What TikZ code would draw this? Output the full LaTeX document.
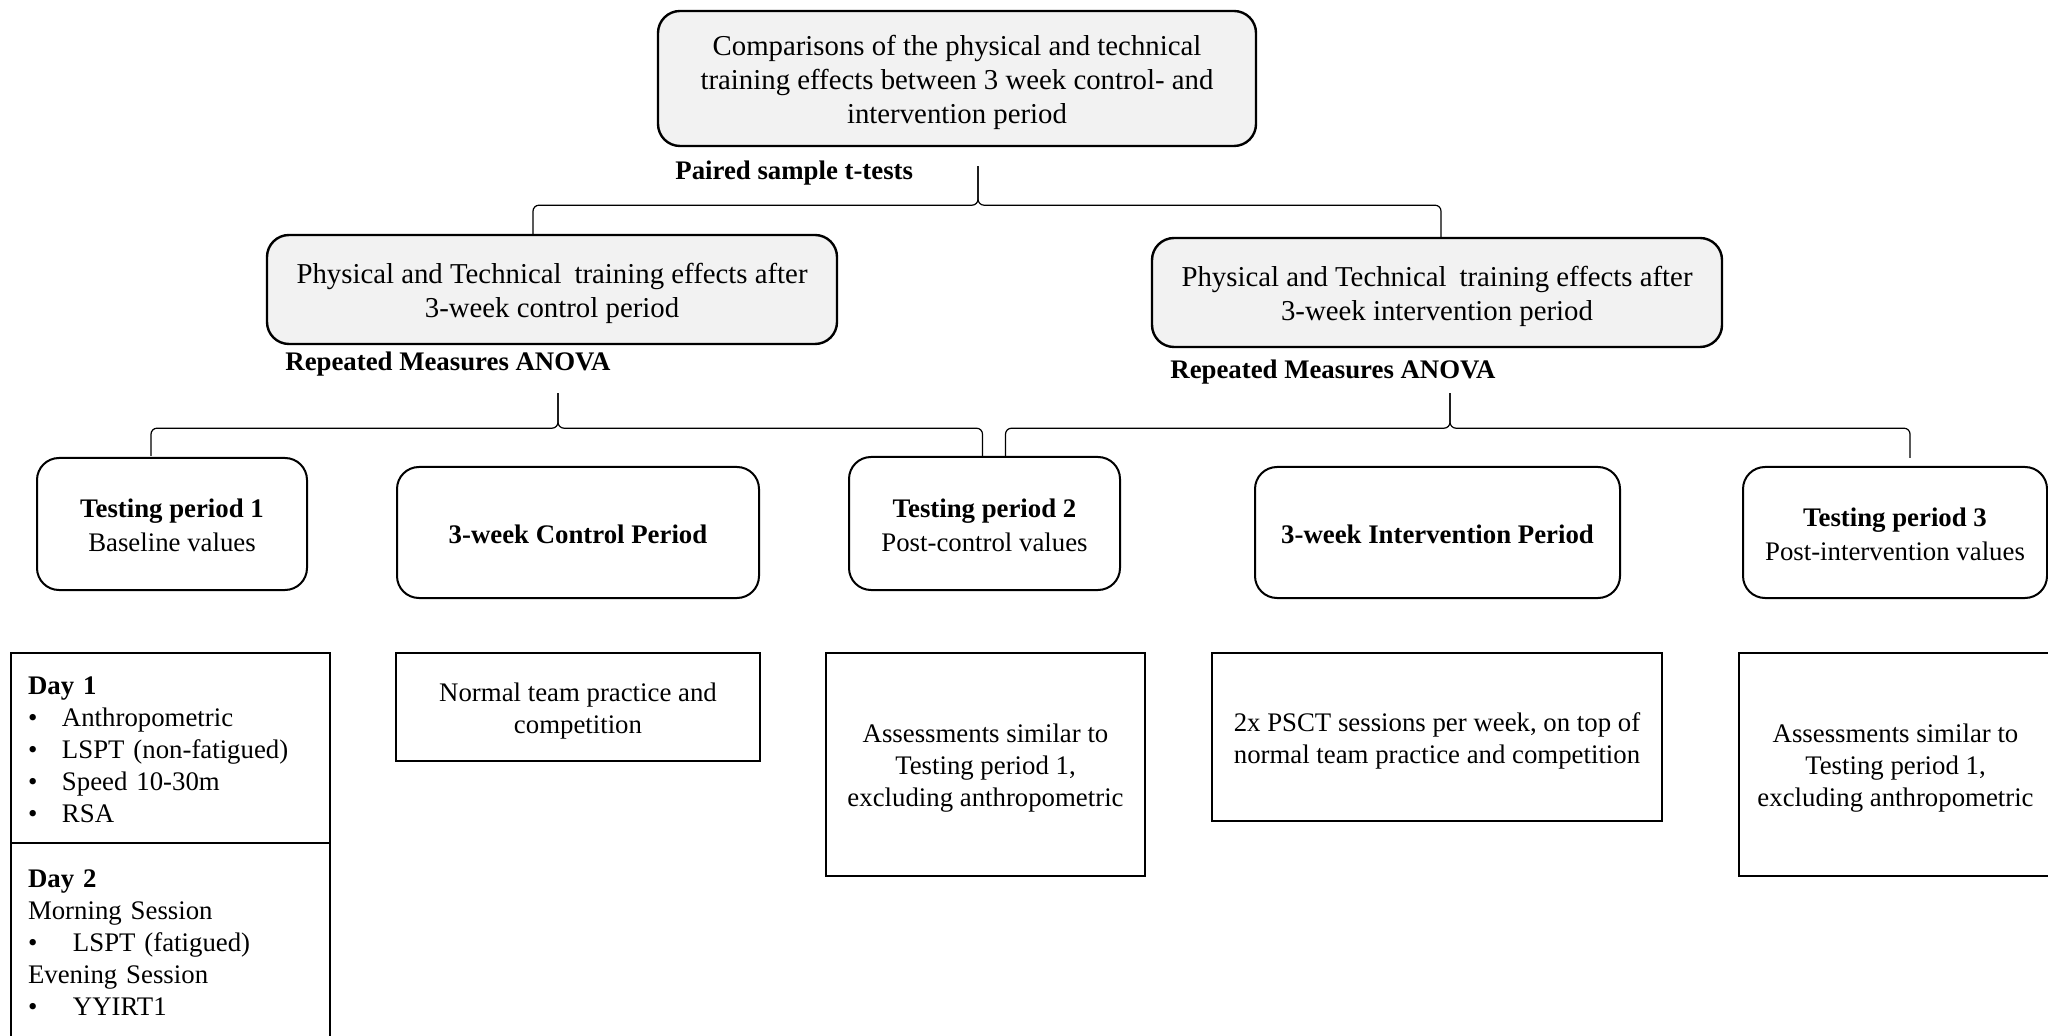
\documentclass[tikz,border=0pt]{standalone}
\usepackage{fontspec}
\setmainfont{Liberation Serif}
\usetikzlibrary{calc}

\definecolor{boxgray}{HTML}{F2F2F2}

\tikzset{
  bigfont/.style={font=\fontsize{14.4}{17}\selectfont},
  smallfont/.style={font=\fontsize{13.4}{16}\selectfont},
  effbox/.style={draw, line width=1.2pt, rounded corners=11pt, fill=boxgray, align=center, bigfont},
  phasebox/.style={draw, line width=1pt, rounded corners=11pt, align=center, smallfont},
  infobox/.style={draw, line width=1pt, align=center, smallfont},
  daybox/.style={draw, line width=1pt, align=left, smallfont, inner xsep=8.5pt, text width=142.5pt},
  testlabel/.style={anchor=base west, inner sep=0pt, font=\bfseries\fontsize{13.4}{16}\selectfont},
  brace/.style={draw, line width=0.6pt, rounded corners=3pt},
}

\newcommand{\wordbrace}[4]{% left end, apex, right end, bar level
  \draw[brace] (#1) -- (#1 |- #4) -- (#2 |- #4) -- (#2);
  \draw[brace] (#2) -- (#2 |- #4) -- (#3 |- #4) -- (#3);
}
\newcommand{\itm}[1][17pt]{\makebox[#1][l]{\textbullet}}
\newcommand{\tstrut}[1]{\rule{0pt}{#1}}

\begin{document}
\begin{tikzpicture}[x=0.5pt, y=-0.5pt]
  \useasboundingbox (0,0) rectangle (2048,1036);

  % comparison between the two periods
  \node[effbox, minimum width=299pt, minimum height=67.5pt] (top) at (957,78.5)
    {\tstrut{14pt}Comparisons of the physical and technical\\training effects between 3 week control- and\\intervention period};
  \node[testlabel] (ttest) at (675,180) {Paired sample t-tests};

  % effects of each period
  \node[effbox, minimum width=285pt, minimum height=54.5pt] (ctrleff) at (552,289.5)
    {\tstrut{14pt}Physical and Technical\hspace{0.2em} training effects after\\3-week control period};
  \node[effbox, minimum width=285pt, minimum height=54.5pt] (inteff) at (1437,292.5)
    {\tstrut{14pt}Physical and Technical\hspace{0.2em} training effects after\\3-week intervention period};
  \node[testlabel] (rmctrl) at (285,371) {Repeated Measures ANOVA};
  \node[testlabel] (rmintv) at (1170,379) {Repeated Measures ANOVA};

  % time line
  \node[phasebox, minimum width=135pt, minimum height=66pt] (tpone) at (172,524)
    {\tstrut{11pt}\textbf{Testing period 1}\\[1pt]Baseline values};
  \node[phasebox, minimum width=181pt, minimum height=65.5pt] (ctrl) at (578,532.5)
    {\tstrut{11pt}\textbf{3-week Control Period}};
  \node[phasebox, minimum width=135.5pt, minimum height=66.5pt] (tptwo) at (984.5,523.5)
    {\tstrut{11pt}\textbf{Testing period 2}\\[1pt]Post-control values};
  \node[phasebox, minimum width=182.5pt, minimum height=65.5pt] (intv) at (1437.5,532.5)
    {\tstrut{11pt}\textbf{3-week Intervention Period}};
  \node[phasebox, minimum width=152pt, minimum height=65.5pt] (tpthree) at (1895,532.5)
    {\tstrut{11pt}\textbf{Testing period 3}\\[1pt]Post-intervention values};

  % contents
  \node[daybox, minimum height=95pt] (dayone) at (170.5,748)
    {\tstrut{10.5pt}\textbf{Day 1}\\\itm Anthropometric\\\itm LSPT (non-fatigued)\\\itm Speed 10-30m\\\itm RSA};
  \node[daybox, minimum height=100pt] (daytwo) at (170.5,943)
    {\textbf{Day 2}\\Morning Session\\\itm[22.5pt]LSPT (fatigued)\\Evening Session\\\itm[22.5pt]YYIRT1};
  \node[infobox, minimum width=182pt, minimum height=54pt] (normal) at (578,707)
    {\tstrut{13.2pt}Normal team practice and\\competition};
  \node[infobox, minimum width=159.5pt, minimum height=111.5pt] (asstwo) at (985.5,764.5)
    {\tstrut{13.2pt}Assessments similar to\\Testing period 1,\\excluding anthropometric};
  \node[infobox, minimum width=225pt, minimum height=84pt] (pscs) at (1437,737)
    {\tstrut{13.2pt}2x PSCT sessions per week, on top of\\normal team practice and competition};
  \node[infobox, minimum width=156.5pt, minimum height=111.5pt] (assthree) at (1895.5,764.5)
    {\tstrut{13.2pt}Assessments similar to\\Testing period 1,\\excluding anthropometric};

  % braces
  \coordinate (bA) at ($(ctrleff.north)+(-19,0)$);
  \coordinate (bApex) at ($(top.south)+(21,19)$);
  \coordinate (bB) at ($(inteff.north)+(4,0)$);
  \coordinate (bBar) at ($(top.south)+(0,58)$);
  \wordbrace{bA}{bApex}{bB}{bBar}

  \coordinate (cA) at ($(tpone.north)+(-21,-1)$);
  \coordinate (cApex) at ($(ctrleff.south)+(6,48)$);
  \coordinate (cB) at ($(tptwo.north)+(-2,0)$);
  \coordinate (cBar) at ($(ctrleff.south)+(0,83)$);
  \wordbrace{cA}{cApex}{cB}{cBar}

  \coordinate (dA) at ($(tptwo.north)+(21,0)$);
  \coordinate (dApex) at ($(inteff.south)+(13,45)$);
  \coordinate (dB) at ($(tpthree.north)+(15,-8)$);
  \coordinate (dBar) at ($(inteff.south)+(0,80)$);
  \wordbrace{dA}{dApex}{dB}{dBar}
\end{tikzpicture}
\end{document}
